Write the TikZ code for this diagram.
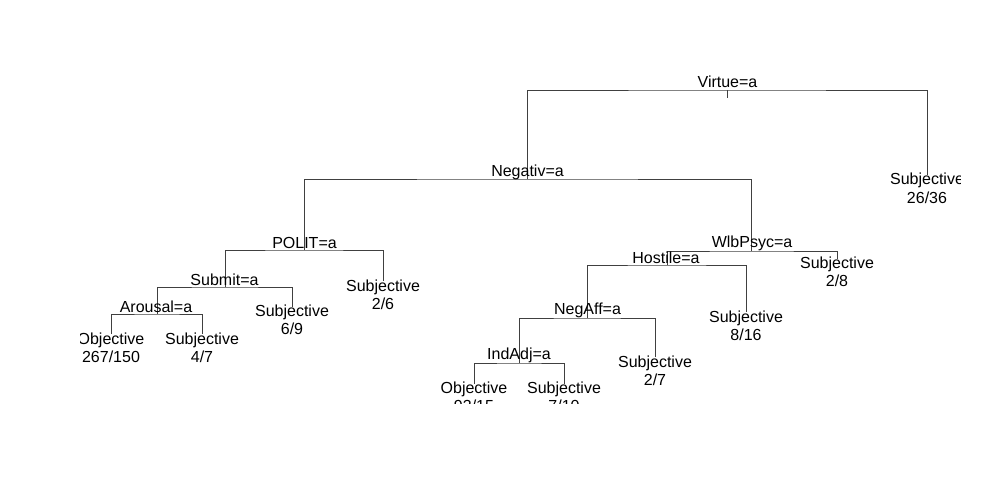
\documentclass[tikz,border=0pt]{standalone}
\usepackage{fontspec}
\setmainfont{Liberation Sans}
\begin{document}
\begin{tikzpicture}[x=1pt,y=-1pt,
  br/.style={draw=black!75, line width=0.8pt},
  split/.style={font=\fontsize{16}{18.5}\selectfont, inner sep=0pt, anchor=base},
  leaf/.style={split, align=center}]
\useasboundingbox (0,0) rectangle (1000,500);
\begin{scope}
\clip (80,0) rectangle (960,403);
% branch points
\coordinate (virt) at (727,90);
\coordinate (neg) at (527,179);
\coordinate (l2636) at (927,175);
\coordinate (polit) at (304,250);
\coordinate (wlb) at (751,251);
\coordinate (submit) at (225,287);
\coordinate (l26) at (383,281);
\coordinate (arousal) at (157,314);
\coordinate (l69) at (292,307);
\coordinate (l267) at (111,334);
\coordinate (l47) at (202,334);
\coordinate (hostile) at (667,265);
\coordinate (l28) at (837,259);
\coordinate (negaff) at (587,318);
\coordinate (l816) at (746,312);
\coordinate (indadj) at (519,363);
\coordinate (l27) at (655,357);
\coordinate (lobj) at (474,384);
\coordinate (l710) at (564,384);
% branches
\draw[br] (virt) -- ++(0,8);
\draw[br] (neg) |- (virt) -| (l2636);
\draw[br] (polit) |- (neg) -| (wlb);
\draw[br] (submit) |- (polit) -| (l26);
\draw[br] (arousal) |- (submit) -| (l69);
\draw[br] (l267) |- (arousal) -| (l47);
\draw[br] (hostile) |- (wlb) -| (l28);
\draw[br] (negaff) |- (hostile) -| (l816);
\draw[br] (indadj) |- (negaff) -| (l27);
\draw[br] (lobj) |- (indadj) -| (l710);
% split labels
\node[split] (tvirt) at (727.5,88) {Virtue=a};
\node[split] (tneg) at (527.5,176) {Negativ=a};
\node[split] (tpolit) at (304.5,248.5) {POLIT=a};
\node[split] (twlb) at (752,247) {WlbPsyc=a};
\node[split] (tsubmit) at (224.5,285) {Submit=a};
\node[split] (tarousal) at (156,312) {Arousal=a};
\node[split] (thostile) at (666,263) {Hostile=a};
\node[split] (tnegaff) at (587.5,314.5) {NegAff=a};
\node[split] (tindadj) at (519,359.5) {IndAdj=a};
% leaves (base anchor = baseline of the last line)
\node[leaf] (t2636) at (927,203) {Subjective\\26/36};
\node[leaf] (t26) at (383,309.5) {Subjective\\2/6};
\node[leaf] (t69) at (292,334.5) {Subjective\\6/9};
\node[leaf] (t267) at (111,362.5) {Objective\\267/150};
\node[leaf] (t47) at (202,362.5) {Subjective\\4/7};
\node[leaf] (t28) at (837,286.5) {Subjective\\2/8};
\node[leaf] (t816) at (746,340.5) {Subjective\\8/16};
\node[leaf] (t27) at (655,385.5) {Subjective\\2/7};
\node[leaf] (tobj) at (474,411.5) {Objective\\93/15};
\node[leaf] (t710) at (564,411.5) {Subjective\\7/10};
\end{scope}
\end{tikzpicture}
\end{document}
